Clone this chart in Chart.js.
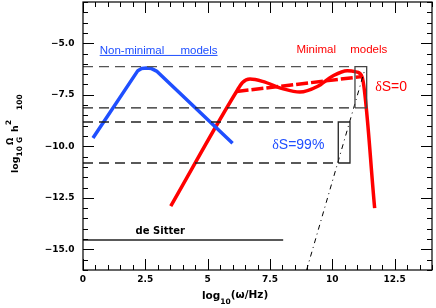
<!DOCTYPE html>
<html><head><meta charset="utf-8">
<script src="https://cdn.jsdelivr.net/npm/chart.js@4"></script>
<style>html,body{margin:0;padding:0;background:#fff}#c{display:block}</style>
</head><body>
<canvas id="c" width="436" height="308"></canvas>
<script>
// ---- data ----
const xTicks = [0, 2.5, 5, 7.5, 10, 12.5];
const yTicks = [-15, -12.5, -10, -7.5, -5];
const nonMinimalX = [0.4, 2.2, 2.35, 2.55, 2.75, 2.95, 6.0];
const nonMinimalY = [-9.6, -6.33, -6.22, -6.2, -6.23, -6.35, -9.85];
const minimalX = [3.52, 6.16, 6.4, 6.7, 7.2, 8.0, 8.7, 9.4, 10.0, 10.6, 11.0, 11.2, 11.7];
const minimalY = [-12.9, -7.34, -6.9, -6.74, -6.85, -7.2, -7.37, -7.1, -6.6, -6.33, -6.4, -6.65, -13.0];
const minimalFitX = [6.16, 11.18];
const minimalFitY = [-7.34, -6.62];
const boundLevelsY = [-6.13, -8.14, -8.82, -10.81];
const boundEndsX = [10.91, 10.91, 10.24, 10.24];
const boxZeroX = [10.91, 11.38];
const boxZeroY = [-8.14, -6.13];
const boxNinetyNineX = [10.24, 10.71];
const boxNinetyNineY = [-10.81, -8.82];
const deSitterX = [0, 8.03];
const deSitterY = [-14.55, -14.55];
const dashDotX = [8.97, 11.3];
const dashDotY = [-16, -6.3];

// ---- helpers ----
const pts = (xs, ys) => xs.map((x, i) => ({x: x, y: ys[i]}));
const rect = (xs, ys) => [
  {x: xs[0], y: ys[0]}, {x: xs[1], y: ys[0]}, {x: xs[1], y: ys[1]},
  {x: xs[0], y: ys[1]}, {x: xs[0], y: ys[0]}
];
const base = {showLine: true, pointRadius: 0, fill: false, tension: 0};

const datasets = [];
boundLevelsY.forEach((y, i) => {
  datasets.push(Object.assign({}, base, {
    data: [{x: 0, y: y}, {x: boundEndsX[i], y: y}],
    borderColor: i === 0 ? '#555' : '#222', borderWidth: 1.3, borderDash: [10, 6]
  }));
});
datasets.push(Object.assign({}, base, {data: rect(boxZeroX, boxZeroY), borderColor: '#444', borderWidth: 1.3}));
datasets.push(Object.assign({}, base, {data: rect(boxNinetyNineX, boxNinetyNineY), borderColor: '#222', borderWidth: 1.3}));
datasets.push(Object.assign({}, base, {data: pts(deSitterX, deSitterY), borderColor: '#222', borderWidth: 1.5}));
datasets.push(Object.assign({}, base, {data: pts(dashDotX, dashDotY), borderColor: '#000', borderWidth: 1, borderDash: [5, 4, 1, 4]}));
datasets.push(Object.assign({}, base, {data: pts(nonMinimalX, nonMinimalY), borderColor: '#1f4fff', borderWidth: 3.5, borderJoinStyle: 'round'}));
datasets.push(Object.assign({}, base, {data: pts(minimalX, minimalY), borderColor: '#ff0000', borderWidth: 3.5, cubicInterpolationMode: 'monotone'}));
datasets.push(Object.assign({}, base, {data: pts(minimalFitX, minimalFitY), borderColor: '#ff0000', borderWidth: 3.5, borderDash: [12, 3]}));

const tickFont = {family: 'DejaVu Sans', size: 9, weight: 'bold'};

const decor = {
  id: 'decor',
  afterDatasetsDraw(chart) {
    const c = chart.ctx, a = chart.chartArea, xs = chart.scales.x, ys = chart.scales.y;
    c.save();
    // frame
    c.strokeStyle = '#000'; c.lineWidth = 1.2;
    c.strokeRect(a.left, a.top, a.right - a.left, a.bottom - a.top);
    // ticks
    c.lineWidth = 1;
    c.beginPath();
    for (let v = 0; v <= 14.001; v += 0.5) {
      const major = Math.abs(v / 2.5 - Math.round(v / 2.5)) < 1e-6;
      const L = major ? 11 : 5, px = Math.round(xs.getPixelForValue(v)) + 0.5;
      c.moveTo(px, a.bottom); c.lineTo(px, a.bottom - L);
      c.moveTo(px, a.top); c.lineTo(px, a.top + L);
    }
    for (let v = -16; v <= -2.999; v += 0.5) {
      const major = Math.abs(v / 2.5 - Math.round(v / 2.5)) < 1e-6;
      const L = major ? 11 : 5, py = Math.round(ys.getPixelForValue(v)) + 0.5;
      c.moveTo(a.left, py); c.lineTo(a.left + L, py);
      c.moveTo(a.right, py); c.lineTo(a.right - L, py);
    }
    c.stroke();

    // annotations (anchored in data coordinates)
    const X = v => xs.getPixelForValue(v), Y = v => ys.getPixelForValue(v);
    c.textBaseline = 'alphabetic'; c.textAlign = 'left';
    c.font = '11.5px "Liberation Sans"';
    c.fillStyle = '#1f4fff';
    c.fillText('Non-minimal', X(0.67), Y(-5.52));
    c.fillText('models', X(3.91), Y(-5.52));
    const w2 = c.measureText('models').width;
    c.strokeStyle = '#1f4fff'; c.lineWidth = 1;
    c.beginPath(); c.moveTo(X(0.67), Y(-5.52) + 1.5); c.lineTo(X(3.91) + w2, Y(-5.52) + 1.5); c.stroke();
    c.fillStyle = '#ff0000';
    c.fillText('Minimal', X(8.56), Y(-5.45));
    c.fillText('models', X(10.72), Y(-5.45));

    function delta(txt, x, y, col) {
      c.fillStyle = col;
      c.font = '14px "Liberation Serif"';
      c.fillText('δ', x, y);
      const w = c.measureText('δ').width;
      c.font = '14px "Liberation Sans"';
      c.fillText(txt, x + w, y);
    }
    delta('S=0', X(11.72), Y(-7.34), '#ff0000');
    delta('S=99%', X(7.59), Y(-10.13), '#1f4fff');

    c.fillStyle = '#000';
    c.font = 'bold 10px "DejaVu Sans"';
    c.fillText('de Sitter', X(2.11), Y(-14.23));

    // x-axis title: log10(ω/Hz)
    const big = 'bold 10.5px "DejaVu Sans"', small = 'bold 7.5px "DejaVu Sans"';
    c.font = big; const wl = c.measureText('log').width;
    c.font = small; const w10 = c.measureText('10').width;
    c.font = big;
    const x0 = 202, yb = 299;
    c.fillText('log', x0, yb);
    c.font = small; c.fillText('10', x0 + wl, yb + 5);
    c.font = big; c.fillText('(ω/Hz)', x0 + wl + w10, yb - 1);

    // y-axis title: log10 Ω_G h^2_100 (rotated)
    const mid = 'bold 9.5px "DejaVu Sans"';
    c.save();
    c.translate(18, 173);
    c.rotate(-Math.PI / 2);
    c.font = mid; c.fillText('log', 0, 0);
    c.font = small; c.fillText('10', 16.5, 4);
    c.font = 'bold 8.5px "DejaVu Sans"'; c.fillText('Ω', 28, -5);
    c.font = small; c.fillText('G', 30, 4);
    c.font = mid; c.fillText('h', 41, 0);
    c.font = small; c.fillText('2', 48, -7);
    c.fillText('100', 63, 4);
    c.restore();
    c.restore();
  }
};

new Chart(document.getElementById('c'), {
  type: 'scatter',
  data: {datasets: datasets},
  plugins: [decor],
  options: {
    responsive: false, animation: false, devicePixelRatio: 1,
    layout: {padding: {left: 0, right: 4, top: 2, bottom: 0}},
    plugins: {legend: {display: false}, tooltip: {enabled: false}},
    scales: {
      x: {
        type: 'linear', min: 0, max: 14,
        afterBuildTicks: s => { s.ticks = xTicks.map(v => ({value: v})); },
        afterFit: s => { s.height = 38; s.paddingLeft = 0; s.paddingRight = 0; },
        grid: {display: false, drawTicks: false}, border: {display: false},
        ticks: {font: tickFont, color: '#000', padding: 4, maxRotation: 0,
          callback: v => String(v)}
      },
      y: {
        type: 'linear', min: -16, max: -3,
        afterBuildTicks: s => { s.ticks = yTicks.map(v => ({value: v})); },
        afterFit: s => { s.width = 83; s.paddingTop = 0; s.paddingBottom = 0; },
        grid: {display: false, drawTicks: false}, border: {display: false},
        ticks: {font: tickFont, color: '#000', padding: 8.5,
          callback: v => v.toFixed(1).replace('-', '\u2212')}
      }
    }
  }
});
</script>
</body></html>
